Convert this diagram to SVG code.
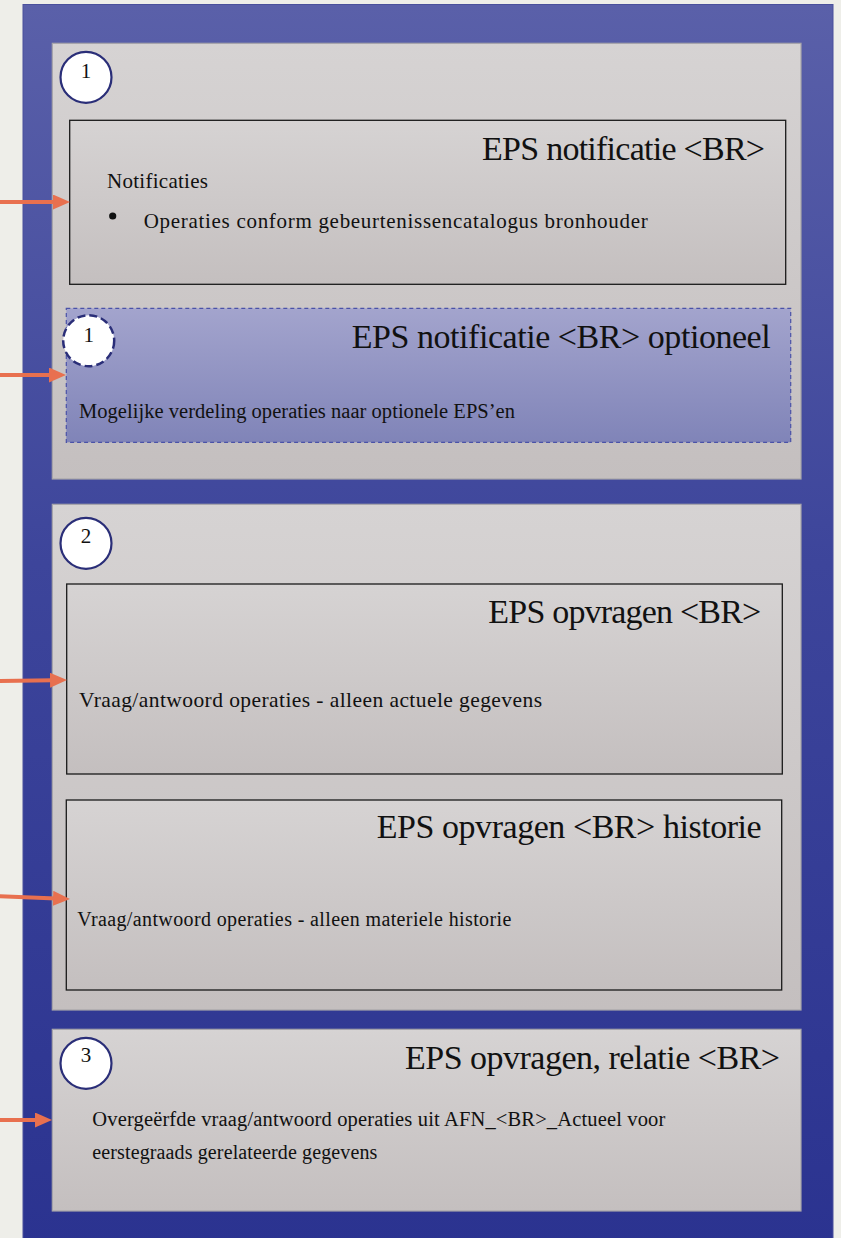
<svg xmlns="http://www.w3.org/2000/svg" width="841" height="1238" viewBox="0 0 841 1238">
  <defs>
    <linearGradient id="gBlue" x1="0" y1="0" x2="0" y2="1">
      <stop offset="0" stop-color="#5a60a9"/>
      <stop offset="0.45" stop-color="#3d459b"/>
      <stop offset="1" stop-color="#2b3390"/>
    </linearGradient>
    <linearGradient id="gGray" x1="0" y1="0" x2="0" y2="1">
      <stop offset="0" stop-color="#d6d3d3"/>
      <stop offset="1" stop-color="#c4bfbf"/>
    </linearGradient>
    <linearGradient id="gLav" x1="0" y1="0" x2="0" y2="1">
      <stop offset="0" stop-color="#a3a4cd"/>
      <stop offset="1" stop-color="#8084b8"/>
    </linearGradient>
    <marker id="ah" viewBox="0 0 17 15" markerWidth="17" markerHeight="15" markerUnits="userSpaceOnUse" refX="3" refY="7.5" orient="auto">
      <path d="M0,0 L17,7.5 L0,15 Z" fill="#e8704f"/>
    </marker>
    <style>
      .panel { fill: url(#gGray); stroke: #a7a5a9; stroke-width: 1.2; }
      .box { fill: url(#gGray); stroke: #1a1a1a; stroke-width: 1.3; }
      .dbox { fill: url(#gLav); stroke: #4a52a8; stroke-width: 1.2; stroke-dasharray: 4 3; }
      .num { fill: #ffffff; stroke: #2a2e78; stroke-width: 2.2; }
      .numd { fill: #ffffff; stroke: #2a2e78; stroke-width: 2.5; stroke-dasharray: 8 4; }
      .t { font-family: "Liberation Serif", "Times New Roman", serif; fill: #111111; }
      .title { font-size: 34px; text-anchor: start; }
      .body { font-size: 21px; }
      .n { font-size: 21px; text-anchor: middle; }
      .arrow { stroke: #e8704f; stroke-width: 4; fill: none; marker-end: url(#ah); }
    </style>
  </defs>

  <rect x="0" y="0" width="841" height="1238" fill="#eeeee9"/>
  <rect id="outer" x="23" y="4.5" width="810" height="1240" fill="url(#gBlue)" stroke="#4a509c" stroke-width="1"/>

  <g id="section1">
    <rect class="panel" x="52.3" y="43.3" width="748.7" height="435.7"/>
    <g id="badge1">
      <circle class="num" cx="86" cy="77.3" r="25.5"/>
      <text class="t n" x="86" y="78">1</text>
    </g>
  </g>

  <g id="eps-notificatie">
    <rect class="box" x="69.7" y="120.3" width="716" height="164"/>
    <text class="t title" x="482" y="160" textLength="283">EPS notificatie &lt;BR&gt;</text>
    <text class="t body" x="107" y="188" textLength="101">Notificaties</text>
    <circle cx="112.7" cy="216" r="3.6" fill="#111111"/>
    <text class="t body" x="143.7" y="228" textLength="504">Operaties conform gebeurtenissencatalogus bronhouder</text>
  </g>

  <g id="eps-notificatie-optioneel">
    <rect class="dbox" x="66.3" y="308.3" width="724.4" height="134"/>
    <circle class="numd" cx="88.7" cy="340.7" r="25.5"/>
    <text class="t n" x="88.7" y="341.5">1</text>
    <text class="t title" x="351.7" y="348.3" textLength="419">EPS notificatie &lt;BR&gt; optioneel</text>
    <text class="t body" x="79" y="417.7" textLength="436" style="font-size:20.5px">Mogelijke verdeling operaties naar optionele EPS’en</text>
  </g>

  <g id="section2">
    <rect class="panel" x="52.3" y="504.3" width="748.7" height="505.7"/>
    <g id="badge2">
      <circle class="num" cx="86" cy="543.3" r="25.5"/>
      <text class="t n" x="86" y="543">2</text>
    </g>
  </g>

  <g id="eps-opvragen">
    <rect class="box" x="66.7" y="584" width="715.6" height="190"/>
    <text class="t title" x="488.3" y="623.3" textLength="273">EPS opvragen &lt;BR&gt;</text>
    <text class="t body" x="79" y="706.7" textLength="463" style="font-size:21.5px">Vraag/antwoord operaties - alleen actuele gegevens</text>
  </g>

  <g id="eps-opvragen-historie">
    <rect class="box" x="66.3" y="800" width="715.4" height="190"/>
    <text class="t title" x="376.7" y="838.3" textLength="385">EPS opvragen &lt;BR&gt; historie</text>
    <text class="t body" x="77.3" y="926" textLength="434" style="font-size:20px">Vraag/antwoord operaties - alleen materiele historie</text>
  </g>

  <g id="section3">
    <rect class="panel" x="52.3" y="1029.3" width="748.7" height="181.7"/>
    <g id="badge3">
      <circle class="num" cx="86" cy="1063.3" r="25.5"/>
      <text class="t n" x="86" y="1062">3</text>
    </g>
    <text class="t title" x="405" y="1069.3" textLength="375">EPS opvragen, relatie &lt;BR&gt;</text>
    <text class="t body" x="92.3" y="1126" textLength="573" style="font-size:20.5px">Overgeërfde vraag/antwoord operaties uit AFN_&lt;BR&gt;_Actueel voor</text>
    <text class="t body" x="92.3" y="1159.3" textLength="285" style="font-size:20px">eerstegraads gerelateerde gegevens</text>
  </g>

  <g id="connectors">
    <line class="arrow" x1="-5" y1="202" x2="56" y2="202"/>
    <line class="arrow" x1="-5" y1="375" x2="52" y2="375"/>
    <line class="arrow" x1="-5" y1="681" x2="53" y2="680.2"/>
    <line class="arrow" x1="-5" y1="896" x2="56" y2="898.4"/>
    <line class="arrow" x1="-5" y1="1120" x2="38" y2="1120"/>
  </g>
</svg>
